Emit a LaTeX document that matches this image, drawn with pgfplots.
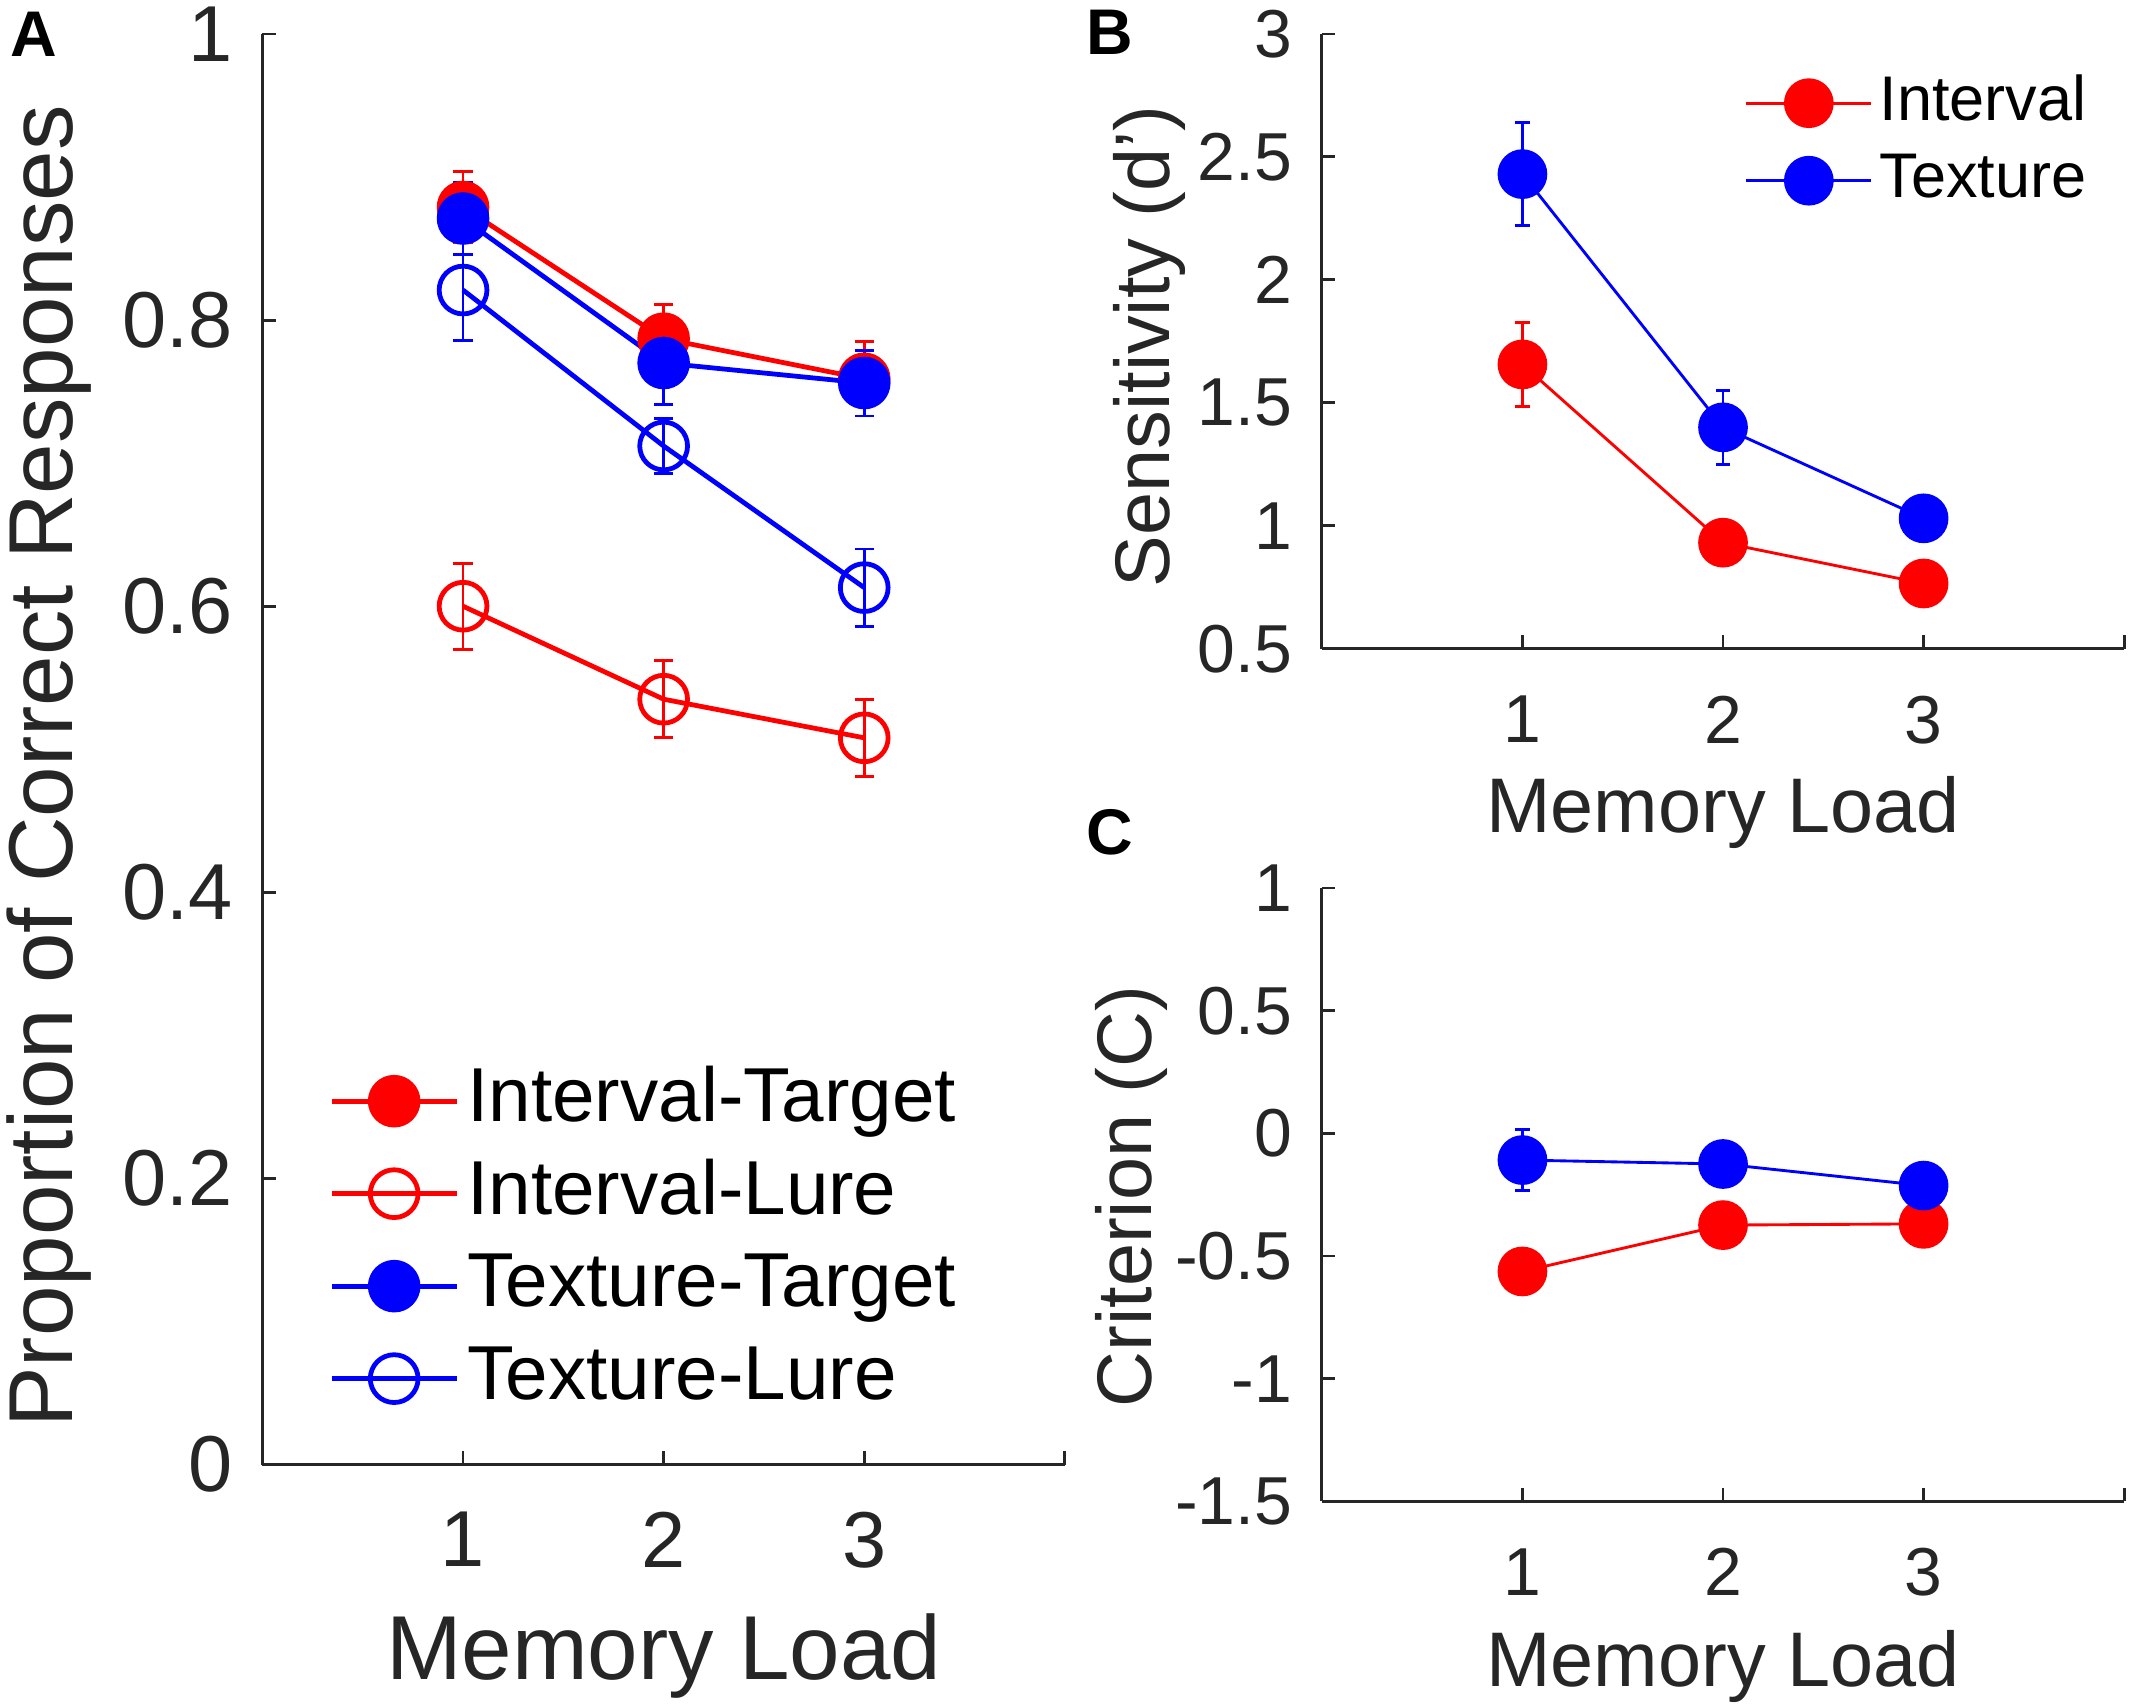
\documentclass[border=0pt]{standalone}
\usepackage{fontspec}
\setmainfont{Liberation Sans}
\usepackage{pgfplots}
\pgfplotsset{compat=1.18}
\definecolor{axgray}{gray}{0.15}
\definecolor{mred}{rgb}{1,0,0}
\definecolor{mblue}{rgb}{0,0,1}

\pgfplotsset{
  matax/.style={
    scale only axis, anchor=south west,
    axis lines=left, axis line style={-, draw=axgray, line width=0.6pt},
    tick align=inside, major tick length=1mm,
    tick style={draw=axgray, line width=0.6pt},
    xmin=0, xmax=4, xtick={1,2,3,4}, xticklabels={1,2,3,{}},
    /pgf/number format/assume math mode=true,
    ticklabel style={text=axgray},
    yticklabel style={anchor=east, inner sep=0pt, xshift=-2.1mm},
    xticklabel style={anchor=north, inner sep=0pt, yshift=-3.4mm},
    label style={text=axgray},
    xlabel style={anchor=base},
    ylabel style={anchor=base},
    clip=false,
  },
  thickA/.style={line width=1pt, mark size=5pt,
    error bars/y dir=both, error bars/y explicit,
    error bars/error bar style={line width=0.6pt},
    error bars/error mark options={rotate=90, mark size=2pt, line width=0.6pt}},
  thinB/.style={line width=0.6pt, mark size=4.9pt,
    error bars/y dir=both, error bars/y explicit,
    error bars/error bar style={line width=0.6pt},
    error bars/error mark options={rotate=90, mark size=1.5pt, line width=0.6pt}},
}

\begin{document}
\begin{tikzpicture}
\useasboundingbox (0,0) rectangle (156.7mm,125.4mm);

% Panel A
\begin{axis}[matax,
  at={(19.3mm,17.7mm)}, width=59mm, height=105.2mm,
  ymin=0, ymax=1, ytick={0,0.2,0.4,0.6,0.8,1},
  ticklabel style={font=\fontsize{16.6}{19}\selectfont},
  label style={font=\fontsize{19}{23}\selectfont},
  xlabel={Memory Load}, ylabel={Proportion of Correct Responses},
  xlabel style={at={(axis description cs:0.5,-0.150)}},
  ylabel style={at={(axis description cs:-0.237,0.488)}},
  legend image code/.code={\draw[mark repeat=2, mark phase=2]
    plot coordinates {(0mm,0mm) (4.6mm,0mm) (9.2mm,0mm)};},
  legend style={at={(rel axis cs:0.082,0.287)}, anchor=north west,
    draw=none, fill=none, inner sep=0pt, text=black,
    font=\fontsize{16}{19}\selectfont,
    nodes={text height=4.3mm, text depth=1.3mm, inner sep=0.6mm}},
  legend cell align=left,
]
\addplot[mred, mark=*, thickA] coordinates {
  (1,0.879) +- (0,0.025) (2,0.787) +- (0,0.024) (3,0.759) +- (0,0.026)};
\addlegendentry{Interval-Target}
\addplot[mred, mark=o, mark options={line width=1pt}, thickA] coordinates {
  (1,0.600) +- (0,0.030) (2,0.535) +- (0,0.027) (3,0.508) +- (0,0.027)};
\addlegendentry{Interval-Lure}
\addplot[mblue, mark=*, thickA] coordinates {
  (1,0.871) +- (0,0.025) (2,0.770) +- (0,0.029) (3,0.756) +- (0,0.023)};
\addlegendentry{Texture-Target}
\addplot[mblue, mark=o, mark options={line width=1pt}, thickA] coordinates {
  (1,0.821) +- (0,0.035) (2,0.712) +- (0,0.019) (3,0.613) +- (0,0.027)};
\addlegendentry{Texture-Lure}
\end{axis}

% Panel B
\begin{axis}[matax,
  at={(97.2mm,77.7mm)}, width=59mm, height=45.2mm,
  ymin=0.5, ymax=3, ytick={0.5,1,1.5,2,2.5,3},
  ticklabel style={font=\fontsize{14.2}{17}\selectfont},
  label style={font=\fontsize{16.2}{19}\selectfont},
  xlabel={Memory Load}, ylabel={Sensitivity (d')},
  xlabel style={at={(axis description cs:0.5,-0.299)}},
  ylabel style={at={(axis description cs:-0.19,0.492)}},
  legend image code/.code={\draw[mark repeat=2, mark phase=2]
    plot coordinates {(0mm,0mm) (4.6mm,0mm) (9.2mm,0mm)};},
  legend style={at={(rel axis cs:0.526,0.952)}, anchor=north west,
    draw=none, fill=none, inner sep=0pt, text=black,
    font=\fontsize{13.2}{16}\selectfont,
    nodes={text height=3.6mm, text depth=1.1mm, inner sep=0.5mm}},
  legend cell align=left,
]
\addplot[mred, mark=*, thinB] coordinates {
  (1,1.656) +- (0,0.17) (2,0.931) +- (0,0.05) (3,0.765) +- (0,0.04)};
\addlegendentry{Interval}
\addplot[mblue, mark=*, thinB] coordinates {
  (1,2.43) +- (0,0.21) (2,1.40) +- (0,0.15) (3,1.03) +- (0,0.05)};
\addlegendentry{Texture}
\end{axis}

% Panel C
\begin{axis}[matax,
  at={(97.2mm,15.0mm)}, width=59mm, height=45.1mm,
  ymin=-1.5, ymax=1, ytick={-1.5,-1,-0.5,0,0.5,1},
  ticklabel style={font=\fontsize{14.2}{17}\selectfont},
  label style={font=\fontsize{16.2}{19}\selectfont},
  xlabel={Memory Load}, ylabel={Criterion (C)},
  xlabel style={at={(axis description cs:0.5,-0.302)}},
  ylabel style={at={(axis description cs:-0.212,0.497)}},
]
\addplot[mred, mark=*, thinB] coordinates {
  (1,-0.563) +- (0,0.085) (2,-0.374) +- (0,0.06) (3,-0.369) +- (0,0.068)};
\addplot[mblue, mark=*, thinB] coordinates {
  (1,-0.109) +- (0,0.125) (2,-0.125) +- (0,0.06) (3,-0.213) +- (0,0.06)};
\end{axis}

\node[font=\bfseries\fontsize{13.5}{16}\selectfont] at (2.5mm,122.9mm) {A};
\node[font=\bfseries\fontsize{13.5}{16}\selectfont] at (81.6mm,123.0mm) {B};
\node[font=\bfseries\fontsize{13.5}{16}\selectfont] at (81.6mm,64.2mm) {C};
\end{tikzpicture}
\end{document}
